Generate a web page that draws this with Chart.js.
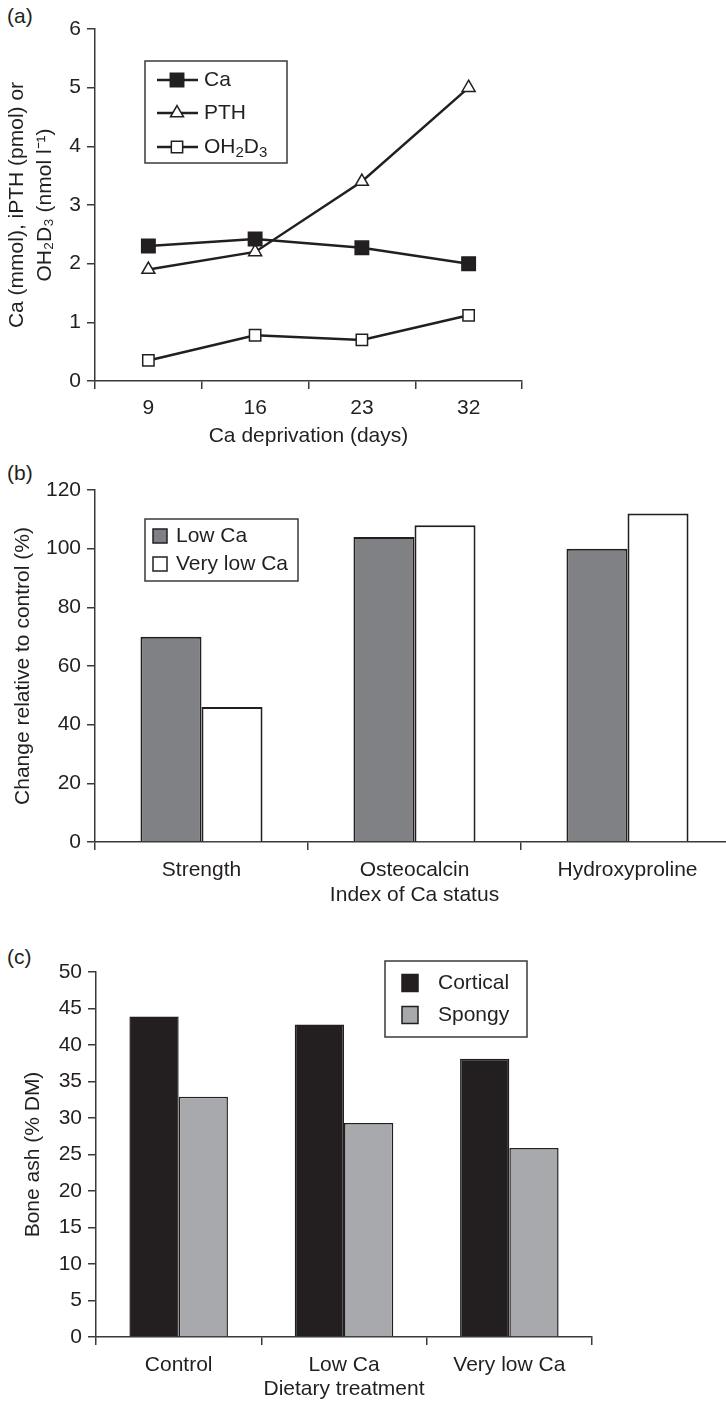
<!DOCTYPE html>
<html>
<head>
<meta charset="utf-8">
<script src="https://cdn.jsdelivr.net/npm/chart.js@4.4.0/dist/chart.umd.min.js"></script>
<style>
html, body { margin: 0; padding: 0; background: #fff; overflow: hidden; width: 726px; height: 1402px; position: relative; }
.panel { position: absolute; left: 0; }
.tag { position: absolute; left: 7px; font: 21px/21px "Liberation Sans", Arial, sans-serif; color: #231f20; }
</style>
</head>
<body>
<div class="tag" style="top:5px">(a)</div>
<div class="tag" style="top:462px">(b)</div>
<div class="tag" style="top:946px">(c)</div>
<div class="panel" style="top:0;width:726px;height:455px"><canvas id="chartA"></canvas></div>
<div class="panel" style="top:455px;width:760px;height:455px"><canvas id="chartB"></canvas></div>
<div class="panel" style="top:910px;width:726px;height:492px"><canvas id="chartC"></canvas></div>
<script>
// panel (a) data
const dayLabels = ['9', '16', '23', '32'];
const caValues = [2.3, 2.42, 2.27, 2.0];
const pthValues = [1.9, 2.2, 3.4, 5.0];
const ohd3Values = [0.35, 0.78, 0.7, 1.12];

// panel (b) data
const indexLabels = ['Strength', 'Osteocalcin', 'Hydroxyproline'];
const lowCaValues = [70, 104, 100];
const veryLowCaValues = [46, 108, 112];

// panel (c) data
const treatmentLabels = ['Control', 'Low Ca', 'Very low Ca'];
const corticalValues = [43.9, 42.8, 38.1];
const spongyValues = [32.9, 29.3, 25.9];

const ink = '#231f20';
const axisColor = '#3a3a3a';
const family = '"Liberation Sans", Arial, sans-serif';
const font = { family: family, size: 21 };

Chart.defaults.animation = false;
Chart.defaults.color = ink;

function yAxis(max, step, width, title, titlePad, lineHeight) {
    return {
        min: 0,
        max: max,
        ticks: { stepSize: step, padding: 6, color: ink, font: font },
        grid: { drawOnChartArea: false, drawTicks: true, tickLength: 8, color: axisColor, lineWidth: 1.5 },
        border: { display: true, color: axisColor, width: 1.5 },
        title: { display: true, text: title, color: ink, font: { family: family, size: 21, lineHeight: lineHeight }, padding: { top: titlePad, bottom: 0 } },
        afterFit(scale) { scale.width = width; }
    };
}

function xAxis(height, title, tickPad, titlePad) {
    return {
        offset: true,
        ticks: { padding: tickPad, color: ink, font: font, maxRotation: 0 },
        grid: { offset: true, drawOnChartArea: false, drawTicks: true, tickLength: 8, color: axisColor, lineWidth: 1.5 },
        border: { display: true, color: axisColor, width: 1.5 },
        title: { display: true, text: title, color: ink, font: font, padding: { top: 0, bottom: titlePad } },
        afterFit(scale) { scale.height = height; }
    };
}

function marker(ctx, style, r, x, y, fill) {
    ctx.beginPath();
    if (style === 'triangle') {
        ctx.moveTo(x, y - r);
        ctx.lineTo(x + r * Math.sin(Math.PI * 2 / 3), y - r * Math.cos(Math.PI * 2 / 3));
        ctx.lineTo(x + r * Math.sin(Math.PI * 4 / 3), y - r * Math.cos(Math.PI * 4 / 3));
        ctx.closePath();
    } else {
        const s = r * Math.SQRT1_2;
        ctx.rect(x - s, y - s, 2 * s, 2 * s);
    }
    ctx.fillStyle = fill;
    ctx.fill();
    ctx.stroke();
}

// legend box for panel (a), with subscripts
const legendA = {
    id: 'legendA',
    afterDraw(chart) {
        const ctx = chart.ctx;
        ctx.save();
        ctx.strokeStyle = axisColor;
        ctx.lineWidth = 1.5;
        ctx.strokeRect(145, 61, 142, 102);
        const rows = [80, 113, 147];
        chart.data.datasets.forEach((ds, i) => {
            const y = rows[i];
            ctx.strokeStyle = ds.borderColor;
            ctx.lineWidth = ds.borderWidth;
            ctx.beginPath();
            ctx.moveTo(157, y);
            ctx.lineTo(198, y);
            ctx.stroke();
            ctx.lineWidth = ds.pointBorderWidth;
            marker(ctx, ds.pointStyle, ds.pointRadius, 177, y, ds.pointBackgroundColor);
            ctx.fillStyle = ink;
            ctx.textBaseline = 'middle';
            ctx.textAlign = 'left';
            let x = 204;
            ds.legendParts.forEach(p => {
                ctx.font = (p.sub ? 15 : 21) + 'px ' + family;
                ctx.fillText(p.t, x, y + (p.sub ? 6 : 0));
                x += ctx.measureText(p.t).width;
            });
        });
        ctx.restore();
    }
};

function boxLegend(id, box, rows, swatch, textX) {
    return {
        id: id,
        afterDraw(chart) {
            const ctx = chart.ctx;
            ctx.save();
            ctx.strokeStyle = axisColor;
            ctx.lineWidth = 1.5;
            ctx.strokeRect(box[0], box[1], box[2], box[3]);
            chart.data.datasets.forEach((ds, i) => {
                const y = rows[i];
                ctx.fillStyle = ds.backgroundColor;
                ctx.strokeStyle = ink;
                ctx.lineWidth = 1.5;
                ctx.fillRect(swatch[0], y - swatch[2] / 2, swatch[1], swatch[2]);
                ctx.strokeRect(swatch[0], y - swatch[2] / 2, swatch[1], swatch[2]);
                ctx.fillStyle = ink;
                ctx.font = '21px ' + family;
                ctx.textBaseline = 'middle';
                ctx.fillText(ds.label, textX, y);
            });
            ctx.restore();
        }
    };
}

const baseOptions = {
    responsive: true,
    maintainAspectRatio: false,
    plugins: { legend: { display: false }, tooltip: { enabled: false } }
};

new Chart(document.getElementById('chartA'), {
    type: 'line',
    data: {
        labels: dayLabels,
        datasets: [
            { label: 'Ca', data: caValues, legendParts: [{ t: 'Ca' }], pointStyle: 'rect', pointRadius: 9.5, pointBackgroundColor: ink },
            { label: 'PTH', data: pthValues, legendParts: [{ t: 'PTH' }], pointStyle: 'triangle', pointRadius: 7.5, pointBackgroundColor: '#fff' },
            { label: 'OH2D3', data: ohd3Values, legendParts: [{ t: 'OH' }, { t: '2', sub: true }, { t: 'D' }, { t: '3', sub: true }], pointStyle: 'rect', pointRadius: 8, pointBackgroundColor: '#fff' }
        ].map(ds => Object.assign({ borderColor: ink, borderWidth: 2.5, pointBorderColor: ink, pointBorderWidth: 1.5, tension: 0, fill: false }, ds))
    },
    options: Object.assign({}, baseOptions, {
        layout: { padding: { top: 29, right: 204, bottom: 0, left: 0 } },
        scales: {
            x: xAxis(74, 'Ca deprivation (days)', 6.4, 6.4),
            y: yAxis(6, 1, 95, ['Ca (mmol), iPTH (pmol) or', 'OH\u2082D\u2083 (nmol l\u207B\u00B9)'], 3, 1.333)
        }
    }),
    plugins: [legendA]
});

new Chart(document.getElementById('chartB'), {
    type: 'bar',
    data: {
        labels: indexLabels,
        datasets: [
            { label: 'Low Ca', data: lowCaValues, backgroundColor: '#808184' },
            { label: 'Very low Ca', data: veryLowCaValues, backgroundColor: '#ffffff' }
        ].map(ds => Object.assign({ borderColor: ink, borderWidth: 2, categoryPercentage: 0.573, barPercentage: 1.0 }, ds))
    },
    options: Object.assign({}, baseOptions, {
        layout: { padding: { top: 35, right: 26, bottom: 0, left: 0 } },
        scales: {
            x: xAxis(68, 'Index of Ca status', 7.4, 2.4),
            y: yAxis(120, 20, 95, 'Change relative to control (%)', 10.4, 1.2)
        }
    }),
    plugins: [boxLegend('legendB', [145, 64, 153, 62], [81, 109], [153, 14, 14], 176)]
});

new Chart(document.getElementById('chartC'), {
    type: 'bar',
    data: {
        labels: treatmentLabels,
        datasets: [
            { label: 'Cortical', data: corticalValues, backgroundColor: ink },
            { label: 'Spongy', data: spongyValues, backgroundColor: '#a7a9ac' }
        ].map(ds => Object.assign({ borderColor: ink, borderWidth: 1.5, categoryPercentage: 0.596, barPercentage: 1.0 }, ds))
    },
    options: Object.assign({}, baseOptions, {
        layout: { padding: { top: 62, right: 134, bottom: 0, left: 0 } },
        scales: {
            x: xAxis(65, 'Dietary treatment', 7.4, 0),
            y: yAxis(50, 5, 96, 'Bone ash (% DM)', 20.4, 1.2)
        }
    }),
    plugins: [boxLegend('legendC', [385, 51, 142, 76], [73, 105], [402, 16, 17], 438)]
});
</script>
</body>
</html>
